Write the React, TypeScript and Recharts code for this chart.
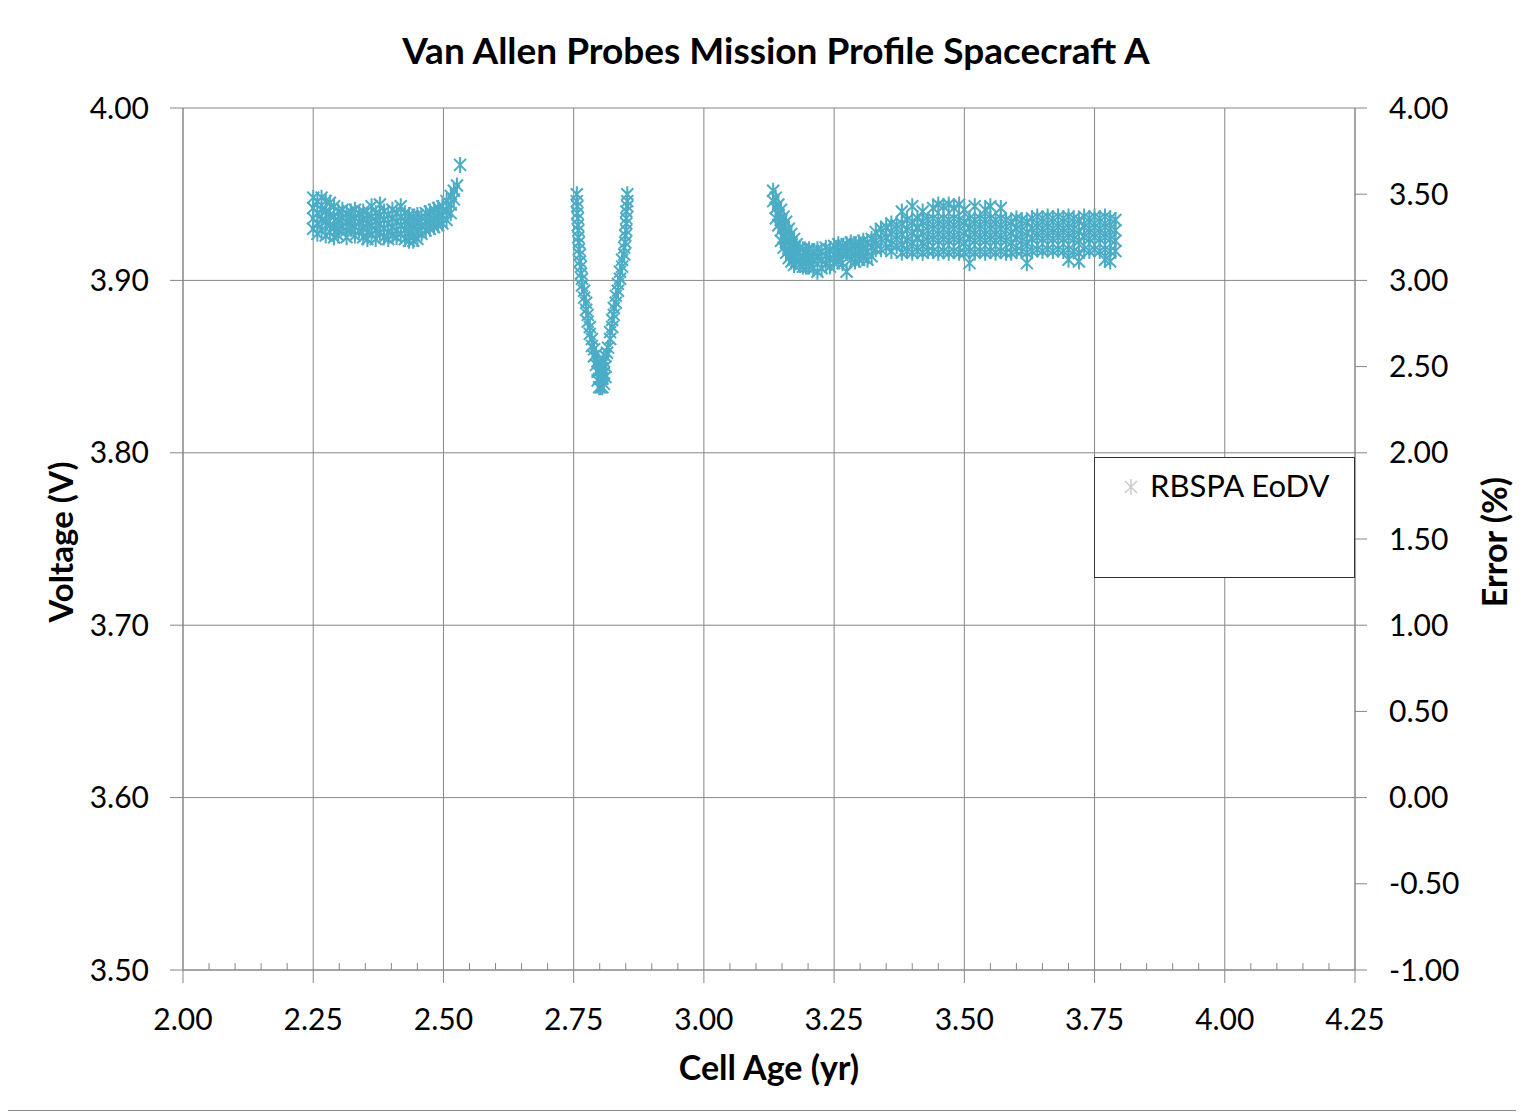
import React from 'react';
import { ScatterChart, Scatter, XAxis, YAxis, CartesianGrid, ReferenceLine, Legend } from 'recharts';

// Cell age (yr) columns with the end-of-discharge voltages (V) read at each
const cluster1: [number, number[]][] = [
  [2.250, [3.948, 3.942, 3.936, 3.930]],
  [2.258, [3.946, 3.939, 3.933, 3.927]],
  [2.266, [3.948, 3.941, 3.935, 3.929]],
  [2.274, [3.946, 3.940, 3.934, 3.926]],
  [2.282, [3.945, 3.938, 3.932, 3.928]],
  [2.290, [3.943, 3.937, 3.931, 3.925]],
  [2.298, [3.940, 3.935, 3.930, 3.926]],
  [2.306, [3.941, 3.936, 3.931]],
  [2.314, [3.939, 3.934, 3.929, 3.925]],
  [2.322, [3.940, 3.935, 3.930]],
  [2.330, [3.941, 3.936, 3.931, 3.926]],
  [2.338, [3.939, 3.934, 3.929]],
  [2.346, [3.940, 3.935, 3.930, 3.925]],
  [2.354, [3.938, 3.933, 3.928, 3.924]],
  [2.362, [3.943, 3.937, 3.932, 3.927]],
  [2.370, [3.939, 3.934, 3.929, 3.924]],
  [2.378, [3.944, 3.938, 3.933, 3.928]],
  [2.386, [3.940, 3.935, 3.930, 3.925]],
  [2.394, [3.938, 3.933, 3.928, 3.924]],
  [2.402, [3.941, 3.936, 3.931, 3.926]],
  [2.410, [3.939, 3.934, 3.929, 3.925]],
  [2.418, [3.943, 3.937, 3.932, 3.927]],
  [2.426, [3.939, 3.934, 3.929, 3.924]],
  [2.434, [3.938, 3.933, 3.928, 3.923]],
  [2.442, [3.937, 3.932, 3.927, 3.923]],
  [2.450, [3.938, 3.933, 3.928, 3.924]],
  [2.458, [3.937, 3.932, 3.927]],
  [2.466, [3.939, 3.934, 3.929]],
  [2.474, [3.940, 3.935, 3.930]],
  [2.482, [3.941, 3.936, 3.931]],
  [2.490, [3.942, 3.937, 3.932]],
  [2.498, [3.943, 3.938, 3.933]],
  [2.506, [3.946, 3.940, 3.935]],
  [2.514, [3.949, 3.944, 3.939]],
  [2.520, [3.952, 3.947]],
  [2.526, [3.955]],
  [2.532, [3.967]],
];

const cluster2: [number, number[]][] = [
  [2.756, [3.950, 3.946]],
  [2.757, [3.943, 3.939]],
  [2.758, [3.936, 3.932]],
  [2.759, [3.929, 3.925]],
  [2.760, [3.922, 3.918]],
  [2.762, [3.915, 3.911]],
  [2.764, [3.908, 3.904]],
  [2.766, [3.901, 3.897]],
  [2.770, [3.894, 3.890]],
  [2.774, [3.887, 3.883]],
  [2.777, [3.880, 3.876]],
  [2.781, [3.873, 3.869]],
  [2.785, [3.866, 3.862]],
  [2.789, [3.860, 3.856]],
  [2.793, [3.857, 3.851]],
  [2.796, [3.853, 3.847, 3.842]],
  [2.799, [3.848, 3.843, 3.838]],
  [2.802, [3.852, 3.843, 3.838]],
  [2.805, [3.849, 3.843, 3.838]],
  [2.808, [3.853, 3.846, 3.840]],
  [2.811, [3.856, 3.850, 3.844]],
  [2.814, [3.858]],
  [2.816, [3.861]],
  [2.820, [3.866, 3.870]],
  [2.824, [3.873, 3.877]],
  [2.827, [3.880, 3.884]],
  [2.831, [3.887, 3.891]],
  [2.835, [3.894, 3.898]],
  [2.839, [3.901, 3.905]],
  [2.843, [3.908, 3.912]],
  [2.847, [3.915, 3.919]],
  [2.849, [3.922, 3.926]],
  [2.851, [3.929, 3.933, 3.936, 3.940]],
  [2.853, [3.943, 3.946, 3.950]],
];

const cluster3: [number, number[]][] = [
  [3.133, [3.952, 3.946]],
  [3.138, [3.948, 3.942, 3.936]],
  [3.143, [3.944, 3.938, 3.932]],
  [3.148, [3.941, 3.935, 3.929, 3.923]],
  [3.153, [3.937, 3.931, 3.925, 3.919]],
  [3.158, [3.934, 3.928, 3.922, 3.916]],
  [3.163, [3.930, 3.924, 3.918, 3.913]],
  [3.168, [3.927, 3.921, 3.916, 3.911]],
  [3.173, [3.924, 3.918, 3.913, 3.909]],
  [3.178, [3.921, 3.916, 3.911]],
  [3.184, [3.919, 3.914, 3.909]],
  [3.190, [3.918, 3.913, 3.908]],
  [3.196, [3.917, 3.912, 3.908]],
  [3.202, [3.918, 3.913, 3.908]],
  [3.210, [3.917, 3.912, 3.907]],
  [3.218, [3.918, 3.913, 3.905]],
  [3.226, [3.917, 3.912, 3.907]],
  [3.234, [3.919, 3.914, 3.909]],
  [3.242, [3.918, 3.913, 3.908]],
  [3.250, [3.920, 3.915, 3.910]],
  [3.258, [3.921, 3.916, 3.911]],
  [3.266, [3.920, 3.915, 3.910]],
  [3.274, [3.921, 3.916, 3.905]],
  [3.282, [3.922, 3.917, 3.912]],
  [3.290, [3.921, 3.916, 3.911]],
  [3.298, [3.922, 3.917, 3.912]],
  [3.306, [3.923, 3.918, 3.913]],
  [3.314, [3.922, 3.917, 3.912]],
  [3.322, [3.924, 3.919, 3.914]],
  [3.33, [3.928, 3.923, 3.918]],
  [3.34, [3.930, 3.924, 3.918]],
  [3.35, [3.931, 3.925, 3.919]],
  [3.36, [3.933, 3.927, 3.921, 3.917]],
  [3.37, [3.932, 3.926, 3.920]],
  [3.38, [3.940, 3.933, 3.927, 3.921, 3.916]],
  [3.39, [3.935, 3.929, 3.923, 3.917]],
  [3.40, [3.943, 3.934, 3.928, 3.922, 3.916]],
  [3.41, [3.936, 3.930, 3.924, 3.917]],
  [3.42, [3.940, 3.934, 3.928, 3.922, 3.916]],
  [3.43, [3.935, 3.929, 3.923, 3.917]],
  [3.44, [3.942, 3.936, 3.930, 3.924, 3.917]],
  [3.45, [3.944, 3.935, 3.929, 3.923, 3.916]],
  [3.46, [3.943, 3.936, 3.930, 3.924, 3.917]],
  [3.47, [3.944, 3.935, 3.929, 3.923, 3.916]],
  [3.48, [3.942, 3.936, 3.930, 3.924, 3.917]],
  [3.49, [3.944, 3.935, 3.929, 3.923, 3.916]],
  [3.50, [3.941, 3.934, 3.928, 3.922, 3.916]],
  [3.51, [3.936, 3.930, 3.924, 3.917, 3.910]],
  [3.52, [3.943, 3.935, 3.929, 3.923, 3.916]],
  [3.53, [3.936, 3.930, 3.924, 3.917]],
  [3.54, [3.941, 3.935, 3.929, 3.923, 3.916]],
  [3.55, [3.943, 3.936, 3.930, 3.924, 3.917]],
  [3.56, [3.935, 3.929, 3.923, 3.916]],
  [3.57, [3.942, 3.936, 3.930, 3.924, 3.917]],
  [3.58, [3.935, 3.929, 3.923, 3.916]],
  [3.59, [3.934, 3.928, 3.922, 3.916]],
  [3.60, [3.936, 3.930, 3.924, 3.917]],
  [3.61, [3.935, 3.929, 3.923, 3.917]],
  [3.62, [3.934, 3.928, 3.922, 3.916, 3.910]],
  [3.63, [3.936, 3.930, 3.924, 3.917]],
  [3.64, [3.937, 3.931, 3.925, 3.918]],
  [3.65, [3.936, 3.930, 3.924, 3.917]],
  [3.66, [3.937, 3.931, 3.925, 3.918]],
  [3.67, [3.936, 3.930, 3.924, 3.917]],
  [3.68, [3.937, 3.931, 3.925, 3.918]],
  [3.69, [3.936, 3.930, 3.924, 3.917]],
  [3.70, [3.937, 3.931, 3.925, 3.918, 3.912]],
  [3.71, [3.936, 3.930, 3.924, 3.917]],
  [3.72, [3.935, 3.929, 3.923, 3.916, 3.911]],
  [3.73, [3.937, 3.931, 3.925, 3.918]],
  [3.74, [3.936, 3.930, 3.924, 3.917]],
  [3.75, [3.937, 3.931, 3.925, 3.918]],
  [3.76, [3.936, 3.930, 3.924, 3.917]],
  [3.77, [3.937, 3.931, 3.925, 3.918, 3.912]],
  [3.78, [3.936, 3.930, 3.924, 3.917, 3.911]],
  [3.79, [3.935, 3.929, 3.923, 3.917]],
];

const xTicks = [2.0, 2.25, 2.5, 2.75, 3.0, 3.25, 3.5, 3.75, 4.0, 4.25];
const xMinorTicks = [2.05, 2.1, 2.15, 2.2, 2.3, 2.35, 2.4, 2.45, 2.55, 2.6, 2.65, 2.7, 2.8, 2.85, 2.9, 2.95, 3.05, 3.1, 3.15, 3.2, 3.3, 3.35, 3.4, 3.45, 3.55, 3.6, 3.65, 3.7, 3.8, 3.85, 3.9, 3.95, 4.05, 4.1, 4.15, 4.2];
const voltTicks = [3.5, 3.6, 3.7, 3.8, 3.9, 4.0];
const errorTicks = [-1, -0.5, 0, 0.5, 1, 1.5, 2, 2.5, 3, 3.5, 4];

const seriesName = 'RBSPA EoDV';
const MARKER = '#4BACC6';
const AXIS = '#868686';
const FONT = 'Lato, "Open Sans", sans-serif';

const toPoints = (cols: [number, number[]][]) =>
  cols.flatMap(([x, ys]) => ys.map((y) => ({ x, y })));

const points = [...toPoints(cluster1), ...toPoints(cluster2), ...toPoints(cluster3)];

const StarMarker = (props: any) => {
  const { cx, cy } = props;
  if (cx == null || cy == null) return <g />;
  const r = 8;
  const d = r * 0.75;
  return (
    <path
      d={`M${cx - d},${cy - d}L${cx + d},${cy + d}M${cx - d},${cy + d}L${cx + d},${cy - d}M${cx},${cy - r}L${cx},${cy + r}`}
      stroke={MARKER}
      strokeWidth={2}
      fill="none"
    />
  );
};

const LegendBox = () => (
  <div
    style={{
      width: 261,
      height: 121,
      boxSizing: 'border-box',
      border: '1.5px solid #333',
      background: '#fff',
      fontFamily: FONT,
      fontSize: 31,
      color: '#000',
      position: 'relative',
    }}
  >
    <svg width={20} height={20} style={{ position: 'absolute', left: 26, top: 19 }}>
      <path d="M4,4L16,16M4,16L16,4M10,2L10,18" stroke="#ccc" strokeWidth={1.5} fill="none" />
    </svg>
    <span style={{ position: 'absolute', left: 55, top: 8, whiteSpace: 'nowrap' }}>{seriesName}</span>
  </div>
);

const fmt = (v: number) => v.toFixed(2);

export default function App() {
  const W = 1508;
  const H = 1102;
  return (
    <div
      style={{
        position: 'relative',
        width: W + 2,
        height: H + 2,
        marginLeft: -1,
        marginTop: -1,
        border: '1px solid #8a8a8a',
        boxSizing: 'border-box',
        background: '#fff',
        fontFamily: FONT,
      }}
    >
      <ScatterChart width={W} height={H - 2} margin={{ top: 100, right: 0, bottom: 0, left: 0 }}>
        <CartesianGrid stroke={AXIS} strokeWidth={1} yAxisId="left" />
        <XAxis
          type="number"
          dataKey="x"
          domain={[2, 4.25]}
          ticks={xTicks}
          tickFormatter={fmt}
          height={138}
          tickSize={13}
          tickMargin={26}
          stroke={AXIS}
          tick={{ fill: '#000', fontSize: 30, fontFamily: FONT }}
          interval={0}
        />
        <YAxis
          yAxisId="left"
          type="number"
          dataKey="y"
          domain={[3.5, 4.0]}
          ticks={voltTicks}
          tickFormatter={fmt}
          width={175}
          tickSize={13}
          tickMargin={21}
          stroke={AXIS}
          tick={{ fill: '#000', fontSize: 30, fontFamily: FONT }}
          interval={0}
          allowDataOverflow
        />
        <YAxis
          yAxisId="right"
          orientation="right"
          type="number"
          domain={[-1, 4]}
          ticks={errorTicks}
          tickFormatter={fmt}
          width={161}
          tickSize={12}
          tickMargin={22}
          stroke={AXIS}
          tick={{ fill: '#000', fontSize: 30, fontFamily: FONT }}
          interval={0}
          allowDataOverflow
        />
        {xMinorTicks.map((t) => (
          <ReferenceLine
            key={t}
            yAxisId="left"
            segment={[{ x: t, y: 3.5 }, { x: t, y: 3.504 }]}
            stroke={AXIS}
            strokeWidth={1}
          />
        ))}
        <Legend
          layout="horizontal"
          verticalAlign="middle"
          align="center"
          wrapperStyle={{ left: 1086, top: 449, width: 261 }}
          content={() => <LegendBox />}
        />
        <Scatter
          yAxisId="left"
          name={seriesName}
          data={points}
          shape={<StarMarker />}
          isAnimationActive={false}
        />
      </ScatterChart>
      <div
        style={{
          position: 'absolute',
          left: 0,
          width: 1536,
          top: 19,
          textAlign: 'center',
          fontSize: 37,
          fontWeight: 700,
          color: '#000',
          whiteSpace: 'nowrap',
        }}
      >
        Van Allen Probes Mission Profile Spacecraft A
      </div>
      <div
        style={{
          position: 'absolute',
          left: 0,
          width: 1522,
          top: 1038,
          textAlign: 'center',
          fontSize: 34,
          fontWeight: 700,
          color: '#000',
        }}
      >
        Cell Age (yr)
      </div>
      <div
        style={{
          position: 'absolute',
          left: 52,
          top: 534,
          width: 0,
          height: 0,
        }}
      >
        <div
          style={{
            position: 'absolute',
            transform: 'translate(-50%, -50%) rotate(-90deg)',
            fontSize: 33,
            fontWeight: 700,
            whiteSpace: 'nowrap',
            color: '#000',
          }}
        >
          Voltage (V)
        </div>
      </div>
      <div
        style={{
          position: 'absolute',
          left: 1485,
          top: 534,
          width: 0,
          height: 0,
        }}
      >
        <div
          style={{
            position: 'absolute',
            transform: 'translate(-50%, -50%) rotate(-90deg)',
            fontSize: 34,
            fontWeight: 700,
            whiteSpace: 'nowrap',
            color: '#000',
          }}
        >
          Error (%)
        </div>
      </div>
    </div>
  );
}
